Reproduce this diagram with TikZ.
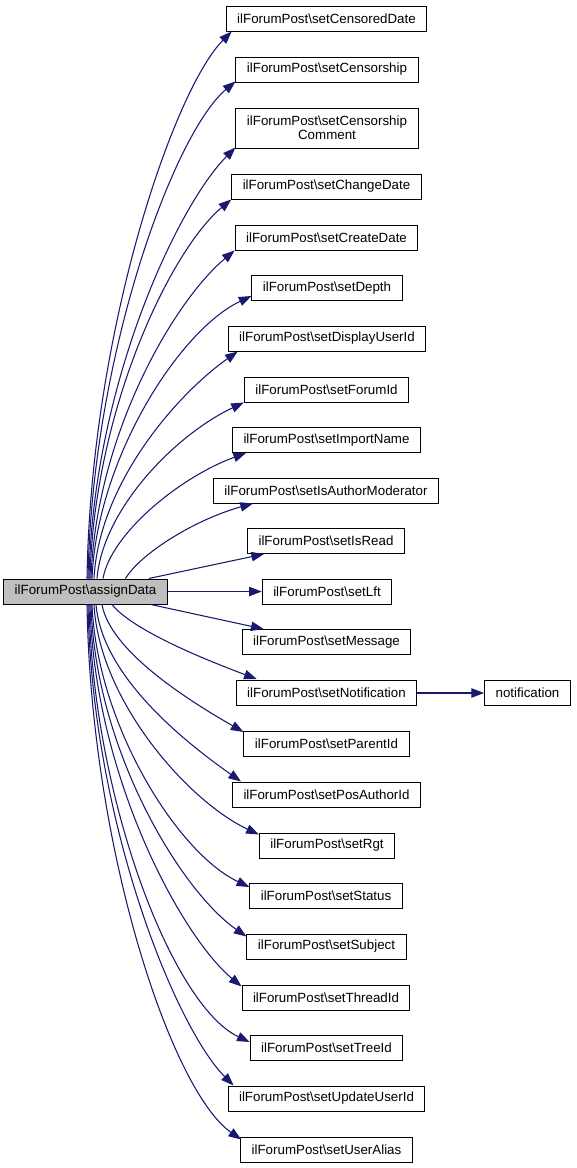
\documentclass[tikz,border=0pt]{standalone}
\usepackage{fontspec}
\setmainfont{Liberation Sans}
\usepackage{tikz}
\usetikzlibrary{
  arrows.meta
}
\definecolor{callblue}{RGB}{25,25,112}
\definecolor{rootgray}{RGB}{191,191,191}
\newcommand{\ifp}{ilForumPost\textbackslash}
\newcommand{\fnbox}[3]{%
  \node[fnnode] (#1) at (#2) {#3};%
}
\newcommand{\callarc}[4]{%
  \draw[callline] (#1) .. controls +(#2) and +(#3) .. (#4);%
}
\tikzset{
  fnnode/.style={draw=black,line width=0.75pt,fill=white,inner xsep=8.25pt,
    inner ysep=0pt,minimum height=18.75pt,align=center,
    font=\fontsize{10}{10.7}\selectfont},
  callline/.style={draw=callblue,line width=0.8pt,
    -{Triangle[length=9.5pt,width=7pt]}}
}

\begin{document}
\begin{tikzpicture}[x=0.75pt,y=-0.75pt]
  \useasboundingbox (0,0) rectangle (576,1168);
  \node[fnnode,fill=rootgray] (assigndata) at (85.5,591.5) {\ifp assignData};
  \fnbox{cdate}{326.5,18.5}{\ifp setCensoredDate}
  \fnbox{cship}{327,69.5}{\ifp setCensorship}
  \node[fnnode,minimum height=30pt] (ccomment) at (327,128) {\ifp setCensorship\\Comment};
  \fnbox{chdate}{326.5,186.5}{\ifp setChangeDate}
  \fnbox{crdate}{326.5,237.5}{\ifp setCreateDate}
  \fnbox{depth}{327,288}{\ifp setDepth}
  \fnbox{dispuser}{327,338.5}{\ifp setDisplayUserId}
  \fnbox{forumid}{326.5,389.5}{\ifp setForumId}
  \fnbox{importname}{326.5,440}{\ifp setImportName}
  \fnbox{authormod}{326,490.5}{\ifp setIsAuthorModerator}
  \fnbox{isread}{326,541}{\ifp setIsRead}
  \fnbox{lft}{327,591.5}{\ifp setLft}
  \fnbox{message}{326.5,642}{\ifp setMessage}
  \fnbox{setnotif}{326.5,693}{\ifp setNotification}
  \fnbox{notification}{527.5,693}{notification}
  \fnbox{parentid}{326.5,744}{\ifp setParentId}
  \fnbox{posauthor}{326.5,794.5}{\ifp setPosAuthorId}
  \fnbox{rgt}{327,845.5}{\ifp setRgt}
  \fnbox{status}{326,896}{\ifp setStatus}
  \fnbox{subject}{326.5,946.5}{\ifp setSubject}
  \fnbox{threadid}{326,997.5}{\ifp setThreadId}
  \fnbox{treeid}{326.5,1048}{\ifp setTreeId}
  \fnbox{upduser}{326.5,1098.5}{\ifp setUpdateUserId}
  \fnbox{alias}{326.5,1149.5}{\ifp setUserAlias}
  \callarc{[shift={(1.5,0)}]assigndata.north}{4,-250}{-57,57}{[shift={(6,0)}]cdate.south west}
  \callarc{[shift={(2.5,0)}]assigndata.north}{4,-225}{-61,51}{[shift={(0,-1)}]cship.south west}
  \callarc{[shift={(3.5,0)}]assigndata.north}{4,-195}{-57,57}{[shift={(0,-1)}]ccomment.south west}
  \callarc{[shift={(4.5,0)}]assigndata.north}{4,-170}{-60,50}{chdate.south west}
  \callarc{[shift={(5.5,0)}]assigndata.north}{5,-145}{-60,50}{crdate.south west}
  \callarc{[shift={(6.5,0)}]assigndata.north}{5,-120}{-72,34}{[shift={(0,-5)}]depth.south west}
  \callarc{[shift={(8.5,0)}]assigndata.north}{5,-95}{-61,43}{[shift={(10,0)}]dispuser.south west}
  \callarc{[shift={(11.5,0)}]assigndata.north}{6,-70}{-68,32}{forumid.south west}
  \callarc{[shift={(17.5,0)}]assigndata.north}{8,-45}{-66,24}{[shift={(14,0)}]importname.south west}
  \callarc{[shift={(40,0)}]assigndata.north}{15,-25}{-58,16}{[shift={(40,0)}]authormod.south west}
  \draw[callline] ([shift={(-19,0)}]assigndata.north east) -- ([shift={(17,0)}]isread.south west);
  \draw[callline] (assigndata) -- (lft);
  \draw[callline] ([shift={(-17,0)}]assigndata.south east) -- ([shift={(22,0)}]message.north west);
  \callarc{[shift={(26.5,0)}]assigndata.south}{20,25}{-56,-21}{[shift={(21,-1)}]setnotif.north west}
  \callarc{[shift={(16.5,0)}]assigndata.south}{8,45}{-61,-35}{[shift={(0,1)}]parentid.north west}
  \callarc{[shift={(10.5,0)}]assigndata.south}{6,70}{-61,-43}{[shift={(9,0)}]posauthor.north west}
  \callarc{[shift={(8.5,0)}]assigndata.south}{5,95}{-72,-34}{[shift={(0,2)}]rgt.north west}
  \callarc{[shift={(6.5,0)}]assigndata.south}{5,120}{-72,-34}{[shift={(0,4)}]status.north west}
  \callarc{[shift={(5.5,0)}]assigndata.south}{4,145}{-66,-46}{[shift={(0,3)}]subject.north west}
  \callarc{[shift={(4.5,0)}]assigndata.south}{4,170}{-61,-51}{[shift={(0,2)}]threadid.north west}
  \callarc{[shift={(3.5,0)}]assigndata.south}{4,195}{-77,-36}{[shift={(0,7)}]treeid.north west}
  \callarc{[shift={(2.5,0)}]assigndata.south}{4,220}{-57,-57}{[shift={(6,0)}]upduser.north west}
  \callarc{[shift={(1.5,0)}]assigndata.south}{4,245}{-70,-49}{[shift={(1,3)}]alias.north west}
  \draw[callline] (setnotif) -- (notification);
\end{tikzpicture}
\end{document}
